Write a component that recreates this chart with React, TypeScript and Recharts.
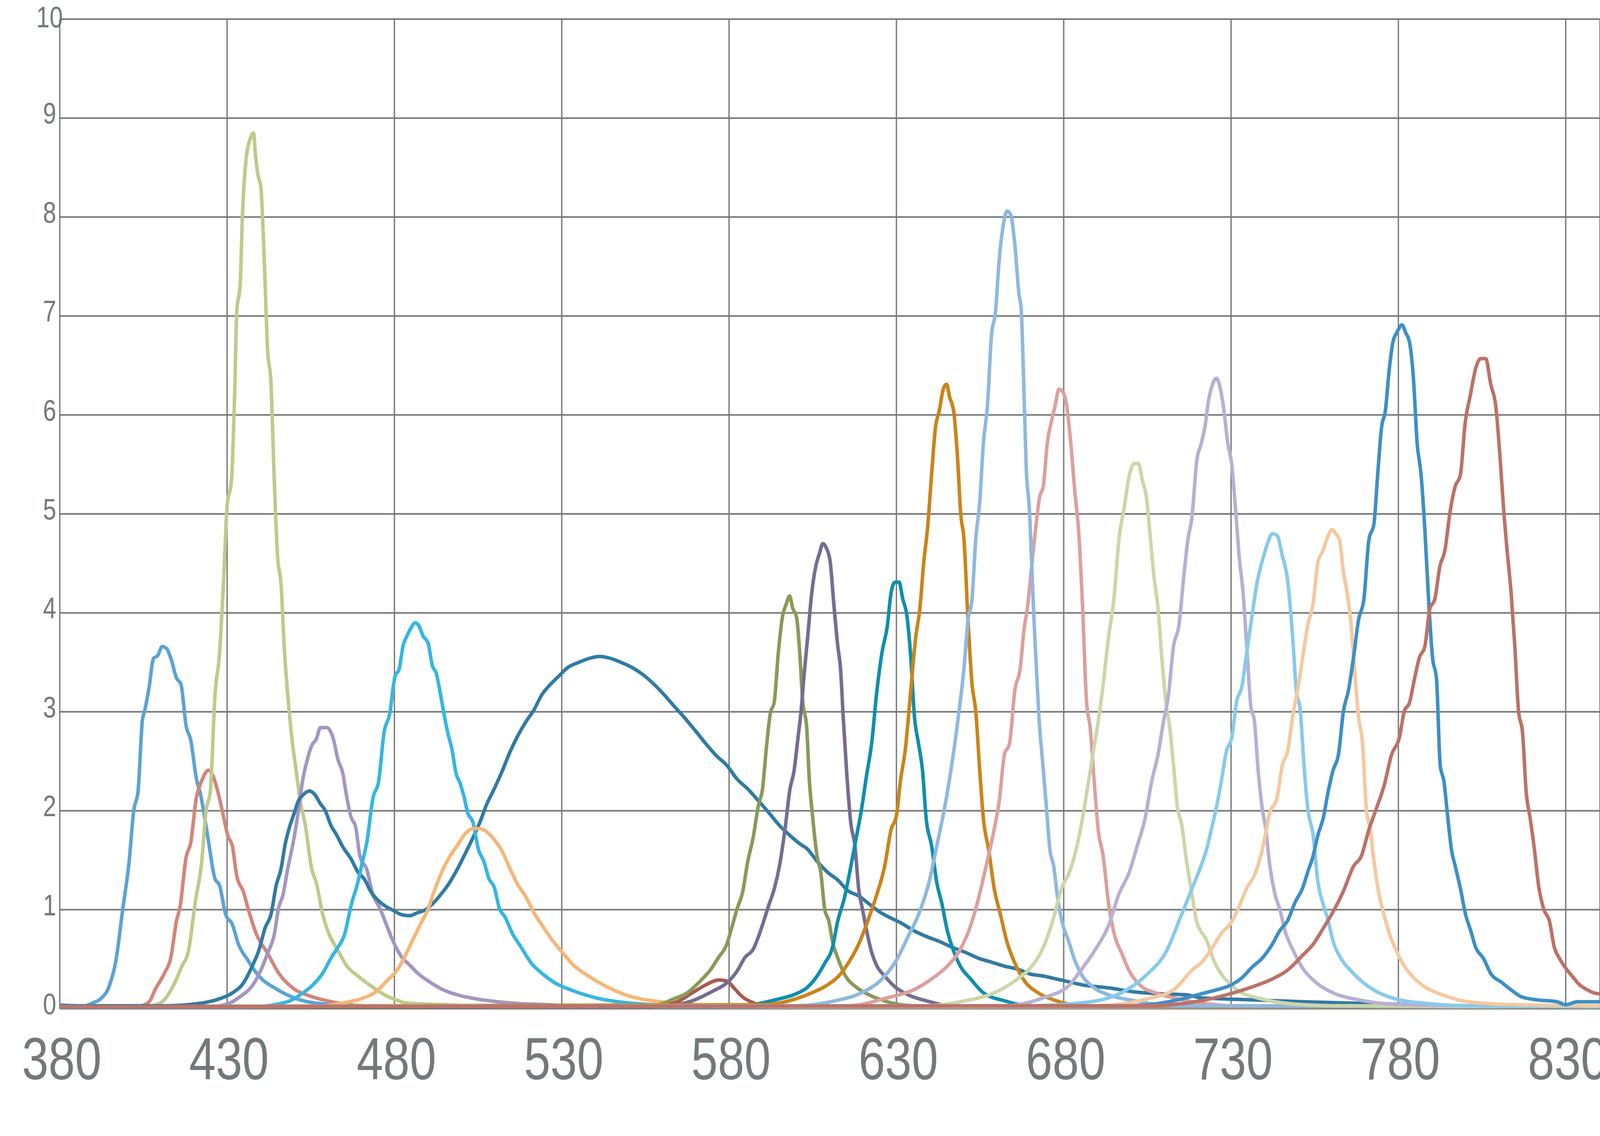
import React from "react";
import { LineChart, Line, XAxis, YAxis, CartesianGrid } from "recharts";

type P = [number, number][];

const xTicks = [380, 430, 480, 530, 580, 630, 680, 730, 780, 830];
const yTicks = [0, 1, 2, 3, 4, 5, 6, 7, 8, 9, 10];

const s410: P = [[380,0.04],[385,0.03],[387.6,0.03],[390,0.06],[392.2,0.1],[394.8,0.23],[396.8,0.49],[398.8,1.0],[400.7,1.48],[402.1,2.0],[403.4,2.2],[404.7,2.92],[405.3,3.0],[406.7,3.25],[408,3.54],[409.3,3.57],[410.6,3.66],[411.9,3.64],[413.2,3.54],[414.9,3.34],[416.2,3.28],[417.8,2.85],[419.1,2.72],[420.8,2.33],[422.1,2.16],[424.4,1.7],[426.4,1.31],[427.7,1.25],[429.6,0.95],[431.6,0.85],[433.3,0.66],[436.2,0.49],[439.5,0.33],[444.7,0.2],[450,0.11],[458,0.05],[470,0.03],[840,0.02]];
const s425: P = [[380,0.03],[404,0.03],[406.7,0.07],[408.6,0.2],[411.3,0.36],[413.2,0.52],[414.9,0.89],[415.9,1.02],[417.8,1.54],[419.1,1.67],[420.8,2.13],[422.4,2.3],[424.4,2.41],[425.7,2.36],[427.7,2.13],[429,1.93],[430.3,1.74],[431.6,1.64],[432.9,1.34],[434.9,1.18],[436.2,1.02],[438.8,0.75],[442.1,0.56],[445.4,0.36],[450,0.2],[454.6,0.13],[461.1,0.07],[471,0.03],[840,0.02]];
const s438: P = [[380,0.03],[407.3,0.03],[410.6,0.07],[413.9,0.23],[416.5,0.43],[418.5,0.59],[420.5,1.08],[422.4,1.48],[423.7,2.0],[425,2.2],[426.4,3.18],[427.7,3.57],[429,4.36],[430,5.08],[431.3,5.34],[432.3,6.26],[432.9,7.05],[433.9,7.31],[434.6,8.03],[435.6,8.56],[436.9,8.79],[437.9,8.85],[438.5,8.62],[439.2,8.43],[440.1,8.3],[441.1,7.57],[442.1,6.66],[443.1,6.33],[444.1,5.34],[445.1,4.56],[446.1,4.3],[447.1,3.64],[448.1,3.18],[449.4,2.72],[450.7,2.39],[452,2.07],[453.3,1.87],[455.3,1.41],[456.6,1.28],[458.6,0.95],[460.5,0.75],[463.1,0.59],[465.8,0.43],[469.1,0.33],[473,0.23],[477.6,0.13],[481.3,0.08],[483,0.06],[494,0.04],[510,0.02],[840,0.02]];
const s458: P = [[380,0.02],[425,0.02],[430.3,0.05],[434.2,0.13],[437.5,0.23],[440.1,0.39],[442.1,0.56],[444.1,0.75],[445.4,1.02],[446.7,1.15],[448.1,1.41],[449.7,1.67],[451,1.93],[452.7,2.33],[454,2.52],[455.3,2.66],[456.6,2.72],[457.9,2.84],[459.8,2.84],[461.8,2.72],[463.1,2.52],[464.5,2.39],[465.8,2.13],[467.1,1.93],[468.4,1.84],[469.7,1.54],[471.7,1.41],[473.6,1.15],[475.6,1.02],[477.6,0.85],[479.5,0.69],[482.2,0.52],[484.6,0.44],[486.9,0.36],[490.1,0.28],[494,0.2],[498.8,0.14],[504.3,0.1],[513.8,0.06],[525.6,0.04],[545,0.02],[840,0.02]];
const sWhite: P = [[380,0.03],[412,0.03],[421,0.05],[427.7,0.1],[431.6,0.16],[434.9,0.26],[437.5,0.43],[439.5,0.59],[441.4,0.82],[443.1,0.95],[444.7,1.25],[446.1,1.41],[447.4,1.67],[448.7,1.84],[450,1.97],[451.3,2.1],[452.7,2.16],[454.6,2.2],[456.3,2.16],[457.9,2.07],[459.2,2.01],[461.2,1.84],[462.5,1.77],[464.5,1.64],[467.1,1.51],[469.1,1.38],[471,1.31],[473,1.18],[475.6,1.08],[477.6,1.03],[479.8,0.99],[482.2,0.95],[484.6,0.94],[486.9,0.97],[489.3,1.0],[491.7,1.07],[494,1.16],[496.4,1.27],[498.8,1.41],[501.2,1.57],[503.5,1.73],[505.5,1.88],[507.5,2.06],[509.8,2.22],[512.2,2.4],[514.6,2.6],[516.9,2.76],[519.3,2.9],[521.7,3.02],[524,3.17],[526.4,3.27],[528.8,3.35],[531.9,3.45],[535.1,3.5],[538.2,3.54],[541.4,3.56],[544.6,3.54],[547.7,3.5],[550.9,3.45],[554.1,3.38],[557.2,3.29],[560.4,3.18],[563.5,3.06],[566.7,2.94],[569.9,2.81],[573,2.68],[576.1,2.56],[579.3,2.46],[582.4,2.32],[585.6,2.22],[588.8,2.1],[591.9,1.98],[595.1,1.85],[598.2,1.75],[601.4,1.66],[603.2,1.62],[606.3,1.49],[609.4,1.38],[612.5,1.3],[615.6,1.19],[618.7,1.14],[621.8,1.06],[624.9,0.98],[628.1,0.92],[631.2,0.87],[635.1,0.79],[638.9,0.73],[642.8,0.68],[646.7,0.62],[650.6,0.57],[654.5,0.51],[658.4,0.47],[662.3,0.43],[666.2,0.4],[670,0.35],[673.9,0.33],[677.8,0.3],[681.7,0.27],[685.6,0.24],[693.4,0.21],[701.2,0.17],[709,0.15],[716.7,0.14],[721,0.11],[736,0.09],[751.4,0.07],[774,0.05],[800,0.03],[840,0.03]];
const s487: P = [[380,0.02],[438,0.02],[448,0.07],[452.7,0.16],[455.3,0.23],[458.6,0.36],[461.2,0.52],[463.1,0.62],[465.1,0.75],[467.1,1.05],[469.1,1.28],[470.4,1.48],[471.7,1.67],[473.6,2.13],[475.3,2.3],[476.9,2.79],[478.6,2.98],[480.2,3.36],[481.4,3.43],[482.6,3.67],[483.8,3.77],[485,3.85],[486.2,3.9],[487.3,3.87],[488.5,3.77],[490.1,3.69],[491.3,3.47],[492.5,3.39],[493.7,3.19],[494.8,2.98],[496,2.78],[497.2,2.62],[498.4,2.38],[499.6,2.28],[500.8,2.14],[501.9,1.98],[503.5,1.88],[505.1,1.61],[506.7,1.49],[508.3,1.31],[509.8,1.23],[511.4,1.01],[513,0.93],[515.4,0.75],[517.7,0.63],[520.9,0.46],[524,0.36],[528,0.26],[533.5,0.18],[541.4,0.1],[549.3,0.06],[557.2,0.04],[565,0.03],[840,0.02]];
const s505: P = [[380,0.02],[455,0.02],[465,0.06],[470,0.1],[474,0.16],[478.3,0.3],[480.6,0.38],[483,0.52],[485.4,0.69],[487.7,0.85],[490.1,1.01],[491.7,1.17],[494,1.37],[496.4,1.53],[498.8,1.65],[501.2,1.77],[503.5,1.82],[505.5,1.82],[507.5,1.79],[509.8,1.71],[512.2,1.59],[514.6,1.41],[516.9,1.25],[519.3,1.13],[521.7,0.97],[524,0.85],[527.2,0.69],[530.4,0.56],[533.5,0.44],[537.5,0.34],[541.4,0.26],[546.1,0.18],[550.9,0.12],[557.2,0.08],[561.9,0.06],[569,0.04],[600,0.02],[840,0.02]];
const s578: P = [[380,0.02],[557.2,0.02],[565.1,0.08],[569,0.16],[573,0.24],[576.9,0.29],[579.3,0.28],[581.7,0.2],[584,0.12],[587.2,0.06],[590.3,0.03],[840,0.02]];
const s598: P = [[380,0.02],[557.2,0.03],[563.5,0.1],[567.5,0.16],[571.4,0.28],[574.6,0.4],[576.9,0.52],[579.3,0.65],[580.9,0.83],[582.4,1.01],[584,1.17],[585.6,1.49],[587.2,1.73],[588.8,2.06],[590,2.22],[591.1,2.62],[592.3,2.98],[593.5,3.1],[594.7,3.59],[595.9,3.95],[597.1,4.09],[598.1,4.17],[599,4.05],[600.2,3.95],[601.2,3.55],[602,3.11],[603.2,2.84],[604,2.3],[604.7,2.03],[605.5,1.76],[606.3,1.54],[607.4,1.38],[608.6,1.0],[609.8,0.89],[610.9,0.68],[612.5,0.51],[614.8,0.33],[617.9,0.22],[621.8,0.14],[627.3,0.07],[635,0.03],[840,0.02]];
const s608: P = [[380,0.02],[561,0.03],[569,0.08],[575.3,0.18],[579.3,0.26],[582.4,0.38],[584.8,0.52],[587.2,0.6],[588.8,0.73],[590.4,0.89],[591.9,1.05],[593.5,1.21],[595.1,1.45],[596.7,1.81],[598.2,2.22],[599.4,2.4],[600.6,2.74],[601.5,3.0],[602.3,3.33],[603.5,3.76],[604.7,4.2],[605.9,4.47],[607,4.6],[608,4.7],[609,4.66],[610.2,4.52],[611.3,4.09],[612.5,3.66],[613.3,3.44],[614.1,2.95],[615.2,2.36],[616.4,1.87],[617.6,1.65],[618.7,1.22],[619.9,1.0],[621.1,0.79],[622.6,0.57],[624.2,0.43],[626.5,0.33],[629.6,0.22],[633.5,0.14],[638.9,0.08],[646.7,0.03],[840,0.02]];
const s630: P = [[380,0.02],[585,0.03],[590,0.06],[595.1,0.1],[600,0.15],[603.2,0.21],[606.3,0.33],[608.6,0.46],[610.9,0.62],[612.5,0.89],[614.4,1.11],[616.4,1.44],[617.9,1.71],[619.5,2.0],[621.1,2.36],[622.6,2.68],[624.2,3.22],[625.7,3.6],[627.3,3.87],[628.4,4.2],[629.6,4.31],[630.8,4.31],[631.9,4.14],[633.1,3.98],[634.3,3.55],[635.4,2.95],[636.6,2.68],[637.8,2.41],[638.9,1.92],[640.5,1.65],[642.1,1.27],[643.6,1.06],[645.2,0.79],[646.7,0.62],[649.1,0.43],[652.2,0.3],[656,0.16],[662.3,0.08],[670,0.03],[840,0.02]];
const s645: P = [[380,0.02],[590,0.04],[600,0.1],[604.7,0.16],[609.4,0.24],[613.3,0.35],[615.6,0.46],[618.7,0.65],[621.8,0.92],[624.2,1.16],[626.5,1.44],[628.4,1.81],[630,1.95],[631.2,2.3],[632.7,2.63],[634.3,3.22],[635.8,3.76],[637,4.04],[638.2,4.52],[639.3,4.85],[640.5,5.39],[641.7,5.88],[642.8,6.04],[644,6.26],[645,6.31],[645.9,6.18],[647.1,6.04],[648.3,5.55],[649.2,5.01],[650.2,4.74],[651.4,3.93],[652.6,3.28],[653.7,3.01],[654.9,2.41],[656,1.92],[657.6,1.6],[659.2,1.22],[661.1,0.95],[663,0.68],[665.4,0.46],[668.5,0.27],[672.4,0.16],[677.8,0.08],[685.6,0.03],[840,0.02]];
const s663: P = [[380,0.02],[600,0.03],[611.7,0.08],[619.5,0.16],[625.7,0.3],[630,0.49],[633.5,0.73],[636.6,0.95],[639.7,1.27],[642.1,1.65],[644.4,2.03],[646.3,2.41],[647.9,2.79],[649.1,3.11],[650.2,3.44],[651.4,3.93],[652.6,4.14],[653.7,4.74],[654.9,5.12],[656,5.72],[657.2,6.09],[658.4,6.8],[659.6,7.04],[660.7,7.56],[661.9,7.91],[663.1,8.06],[664.2,8.02],[665.4,7.72],[666.6,7.23],[667.3,7.07],[668.1,6.26],[668.9,5.39],[669.7,5.07],[670.4,4.52],[671.2,3.87],[672,3.33],[672.8,2.84],[673.5,2.57],[674.7,2.09],[675.9,1.6],[677,1.44],[678.2,1.11],[679.8,0.84],[681.3,0.7],[683.3,0.49],[685.6,0.33],[688.7,0.22],[693.4,0.14],[701.2,0.08],[712.8,0.03],[840,0.02]];
const s680: P = [[380,0.02],[615.6,0.03],[627.3,0.11],[635.1,0.19],[640.5,0.3],[645.2,0.43],[649.1,0.6],[652.2,0.84],[654.5,1.11],[656.8,1.44],[659.2,1.81],[660.7,2.09],[662.3,2.57],[663.8,2.68],[665.4,3.22],[667,3.44],[668.1,3.82],[669.3,4.09],[670.4,4.47],[671.6,4.85],[672.8,5.17],[673.9,5.28],[675.1,5.72],[676.3,5.93],[677.4,6.09],[678.6,6.26],[679.8,6.23],[680.9,6.09],[682.1,5.72],[683.3,5.23],[684.4,4.85],[685.6,4.09],[686.8,3.11],[687.9,2.84],[689.1,2.3],[690.3,1.81],[691.8,1.54],[693.4,1.06],[695.3,0.73],[697.2,0.57],[699.6,0.38],[702.7,0.24],[707.4,0.16],[712.8,0.11],[720.6,0.06],[730,0.03],[840,0.02]];
const s702: P = [[380,0.02],[639,0.03],[650.6,0.08],[659.2,0.16],[666.2,0.3],[670,0.41],[673.9,0.62],[677,0.92],[679.4,1.22],[681.7,1.38],[684,1.65],[685.6,1.92],[687.2,2.25],[688.7,2.57],[690.3,2.9],[691.8,3.28],[693.4,3.76],[695,4.14],[696.5,4.74],[698.1,5.07],[699.6,5.39],[701.2,5.51],[702.3,5.51],[703.5,5.34],[704.7,5.17],[705.8,4.79],[707,4.36],[708.2,4.04],[709.3,3.55],[710.5,3.11],[711.7,2.84],[712.8,2.46],[714,2.03],[715.2,1.87],[716.7,1.49],[718.3,1.16],[719.8,0.87],[721,0.78],[722.6,0.7],[724.8,0.49],[727.1,0.35],[730,0.24],[733.2,0.16],[737.8,0.11],[747.6,0.05],[760,0.03],[840,0.02]];
const s725: P = [[380,0.02],[662.3,0.03],[673.9,0.11],[681.7,0.24],[685.6,0.41],[689.5,0.6],[693.4,0.84],[696.5,1.16],[699.6,1.38],[702,1.65],[704.3,1.92],[706.3,2.3],[708.2,2.57],[709.8,2.9],[711.3,3.17],[712.8,3.66],[714.4,3.87],[716,4.41],[717.1,4.74],[718.3,4.96],[719.8,5.55],[721,5.7],[722.2,5.88],[723.3,6.15],[724.5,6.31],[725.6,6.37],[726.7,6.28],[727.9,6.04],[729,5.72],[730.2,5.5],[731.3,5.07],[732.4,4.58],[733.6,4.2],[734.7,3.66],[735.9,3.06],[737,2.9],[738.1,2.41],[739.3,2.03],[740.4,1.81],[741.6,1.44],[743.1,1.16],[744.6,1.0],[746.1,0.79],[748.4,0.6],[751.4,0.41],[755.2,0.27],[760.5,0.16],[768.1,0.09],[781.8,0.04],[840,0.02]];
const s742: P = [[380,0.02],[670,0.03],[685.6,0.06],[697.2,0.16],[705,0.35],[710.5,0.57],[715.2,0.95],[719,1.27],[721,1.44],[722.6,1.6],[724.1,1.81],[725.6,2.03],[727.1,2.3],[728.6,2.6],[730.2,2.74],[731.7,3.11],[733.2,3.25],[734.7,3.6],[736.3,3.98],[737.8,4.31],[739.3,4.52],[740.8,4.69],[742.3,4.8],[743.8,4.78],[745.3,4.58],[746.9,4.33],[748.4,3.76],[749.5,3.22],[750.7,3.01],[751.8,2.46],[752.9,2.03],[754.5,1.76],[756,1.27],[757.5,1.06],[759,0.89],[760.5,0.68],[762.8,0.51],[765.9,0.38],[770.4,0.24],[778,0.11],[789.4,0.05],[800,0.03],[840,0.02]];
const s758: P = [[380,0.02],[690,0.03],[705,0.1],[712.8,0.19],[719,0.41],[721,0.46],[724.1,0.6],[727.1,0.76],[730,0.87],[732.4,1.03],[734.7,1.22],[737,1.35],[739.3,1.6],[741.6,1.98],[743.8,2.14],[745.3,2.46],[746.9,2.6],[748.4,2.95],[749.9,3.22],[751.4,3.55],[752.9,3.87],[754.5,4.09],[756,4.52],[757.5,4.63],[759,4.78],[760.2,4.84],[761.3,4.8],[762.4,4.74],[763.6,4.41],[764.7,4.2],[765.9,3.87],[767,3.39],[768.1,2.95],[769.3,2.68],[770.4,2.03],[771.6,1.81],[772.7,1.49],[774.2,1.16],[775.7,0.95],[777.6,0.73],[779.6,0.57],[781.8,0.43],[784.1,0.33],[787.9,0.22],[793.2,0.14],[800.8,0.07],[815,0.04],[840,0.03]];
const s781: P = [[380,0.02],[700,0.03],[716.7,0.11],[721,0.15],[725.6,0.19],[730,0.24],[733.2,0.31],[736.3,0.42],[739.3,0.51],[742.3,0.65],[744.6,0.79],[746.9,0.89],[749.2,1.08],[751.4,1.22],[752.9,1.38],[754.5,1.54],[756,1.76],[757.5,1.92],[759,2.19],[760.5,2.41],[762.1,2.57],[763.6,3.01],[765.1,3.22],[766.6,3.55],[768.1,3.93],[769.7,4.14],[771.2,4.74],[772.7,4.9],[773.8,5.39],[775,5.88],[776.1,6.04],[777.3,6.47],[778.4,6.74],[779.5,6.83],[781.1,6.91],[782.2,6.83],[783.3,6.74],[784.5,6.37],[785.6,5.72],[786.8,5.39],[787.9,4.85],[789.1,4.09],[790.2,3.55],[791.4,3.33],[792.5,2.46],[793.6,2.3],[794.8,1.92],[795.9,1.6],[797,1.44],[798.5,1.22],[800.1,0.95],[801.6,0.79],[803.1,0.62],[805.4,0.51],[807.7,0.35],[810.7,0.27],[813.7,0.19],[816.8,0.12],[821.3,0.09],[827.4,0.07],[830,0.04],[833.5,0.07],[840.3,0.07]];
const s805: P = [[380,0.02],[705,0.03],[721,0.08],[728.6,0.14],[736.3,0.22],[742.3,0.3],[746.9,0.39],[751.4,0.54],[754.5,0.65],[757.5,0.81],[760.5,0.98],[763.6,1.19],[766.6,1.44],[768.9,1.54],[771.2,1.81],[773.5,2.03],[775.7,2.25],[778,2.57],[780.3,2.74],[781.8,3.01],[783.3,3.09],[784.8,3.33],[786.3,3.55],[787.9,3.66],[789.4,4.04],[790.9,4.14],[792.4,4.47],[793.9,4.63],[795.4,5.01],[797,5.28],[798.5,5.39],[800,5.93],[801.5,6.2],[803.1,6.47],[804.6,6.57],[806.1,6.57],[807.6,6.31],[809.1,6.09],[810.3,5.61],[811.4,5.07],[812.5,4.63],[813.7,4.2],[814.8,3.66],[815.9,3.01],[817.1,2.79],[818.2,2.19],[819.4,1.92],[820.5,1.65],[822,1.22],[823.5,1.0],[825.1,0.89],[826.6,0.62],[828.1,0.51],[830,0.41],[831.9,0.33],[834.2,0.24],[836.5,0.19],[838.4,0.16],[840.3,0.15]];

const seriesPoints: P[] = [s410, s425, s438, s458, sWhite, s487, s505, s578, s598, s608, s630, s645, s680, s663, s702, s725, s742, s758, s781, s805];
const seriesNames = ["410", "425", "438", "458", "white", "487", "505", "578", "598", "608", "630", "645", "680", "663", "702", "725", "742", "758", "781", "805"];
const seriesColors = ["#5BA3D6", "#D4857A", "#BFCA8A", "#A396C2", "#317BA3", "#35B6E3", "#F5B777", "#A85A50", "#8A9A58", "#776C92", "#0F8FAD", "#CC8418", "#DCA09E", "#8FB8E0", "#CCD6A8", "#B8AFD4", "#87CAEC", "#F6C89E", "#3D8FC6", "#BC7268"];

// the browser viewport is 4096 px wide; the layout is laid out at that width
const W = 4096;
const H = 2909;
const SX = W / 5101;
const TEXT = "#73797B";
const FONT = "'Liberation Sans', Arial, Helvetica, sans-serif";

const XTick = (props: any) => {
  const { x, y, payload } = props;
  return (
    <text
      transform={`translate(${x + 5},${y + 181}) scale(${SX},1)`}
      textAnchor="middle"
      fill={TEXT}
      fontSize={152}
      fontFamily={FONT}
    >
      {payload.value}
    </text>
  );
};

const YTick = (props: any) => {
  const { x, y, payload } = props;
  const base = Math.max(y + 14, 70);
  return (
    <text
      transform={`translate(${x - 26},${base}) scale(${SX},1)`}
      textAnchor="middle"
      fill={TEXT}
      fontSize={76}
      fontFamily={FONT}
    >
      {payload.value}
    </text>
  );
};

export default function App() {
  return (
    <div style={{ position: "absolute", left: 0, top: 0, width: W, height: H, background: "#fff", overflow: "hidden" }}>
      <LineChart width={W} height={H} margin={{ top: 49, right: 0, bottom: 0, left: 0 }}>
        <CartesianGrid stroke="#767676" strokeWidth={4} vertical={false} />
        <CartesianGrid stroke="#767676" strokeWidth={3.3} horizontal={false} />
        <XAxis
          type="number"
          dataKey="x"
          domain={[380, 840.25]}
          ticks={xTicks}
          interval={0}
          allowDataOverflow
          height={326}
          tickSize={0}
          tickMargin={0}
          axisLine={false}
          tickLine={false}
          tick={XTick}
        />
        <YAxis
          type="number"
          domain={[0, 10]}
          ticks={yTicks}
          interval={0}
          allowDataOverflow
          width={153}
          tickSize={0}
          tickMargin={0}
          axisLine={false}
          tickLine={false}
          tick={YTick}
        />
        {seriesPoints.map((pts, i) => (
          <Line
            key={seriesNames[i]}
            name={seriesNames[i]}
            data={pts.map(([x, y]) => ({ x, y }))}
            dataKey="y"
            type="monotoneX"
            stroke={seriesColors[i]}
            strokeWidth={9}
            strokeLinejoin="round"
            strokeLinecap="round"
            dot={false}
            activeDot={false}
            isAnimationActive={false}
          />
        ))}
      </LineChart>
    </div>
  );
}
